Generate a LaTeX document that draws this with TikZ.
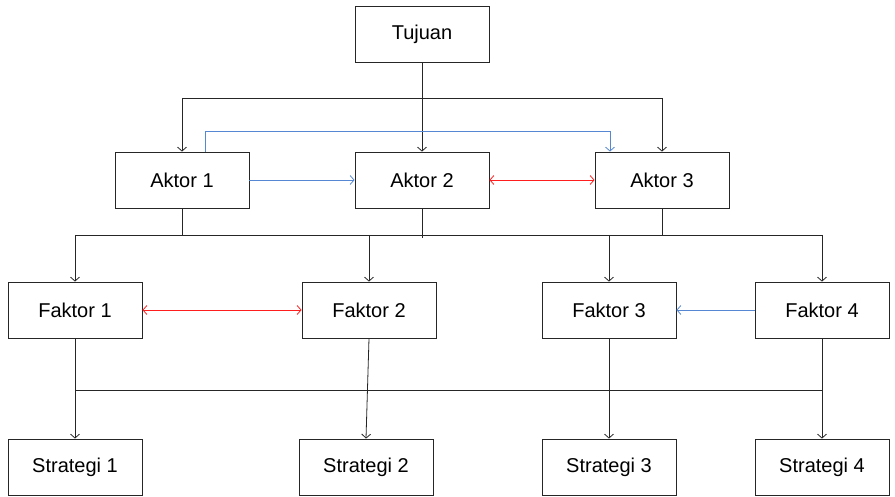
\documentclass[tikz,border=0pt]{standalone}
\usepackage{fontspec}
\setmainfont{Liberation Sans}
\usetikzlibrary{arrows.meta}
\definecolor{linkblue}{RGB}{85,135,210}
\definecolor{linkred}{RGB}{255,30,30}

\begin{document}
\begin{tikzpicture}[x=1pt,y=-1pt,
  box/.style={draw=black!85,line width=0.8pt,minimum width=134pt,minimum height=56pt,inner sep=0pt,font=\fontsize{20}{24}\selectfont},
  every path/.style={line width=0.8pt},
  >={Straight Barb[length=4pt,width=9pt]}]
\useasboundingbox (0,0) rectangle (895,497);
% boxes
\node [box] (tujuan) at (422,34) {Tujuan};
\node [box] (aktor1) at (182,180) {Aktor 1};
\node [box] (aktor2) at (422,180) {Aktor 2};
\node [box] (aktor3) at (662,180) {Aktor 3};
\node [box] (faktor1) at (75,310) {Faktor 1};
\node [box] (faktor2) at (369,310) {Faktor 2};
\node [box] (faktor3) at (609,310) {Faktor 3};
\node [box] (faktor4) at (822,310) {Faktor 4};
\node [box] (strategi1) at (75,467) {Strategi 1};
\node [box] (strategi2) at (366,467) {Strategi 2};
\node [box] (strategi3) at (609,467) {Strategi 3};
\node [box] (strategi4) at (822,467) {Strategi 4};
% tujuan to aktor
\coordinate (t1) at (182,98);
\coordinate (t3) at (662,98);
\draw [->,black!85] (tujuan.south) -- (aktor2.north);
\draw [black!85] (t1) -- (t3);
\draw [->,black!85] (t1) -- (aktor1.north);
\draw [->,black!85] (t3) -- (aktor3.north);
\coordinate (bl) at (610,131);
\draw [->,linkblue] ([xshift=23pt]aktor1.north) |- (bl) -- (bl |- aktor3.north);
\draw [->,linkblue] (aktor1) -- (aktor2);
\draw [<->,linkred] (aktor2) -- (aktor3);
% aktor to faktor
\coordinate (f1) at (75,235);
\coordinate (f4) at (822,235);
\draw [black!85] (aktor1.south) -- (aktor1.south |- f1);
\draw [black!85] (aktor2.south) -- ++(0,30);
\draw [black!85] (aktor3.south) -- (aktor3.south |- f1);
\draw [black!85] (f1) -- (f4);
\draw [->,black!85] (f1) -- (faktor1.north);
\draw [->,black!85] (faktor2.north |- f1) -- (faktor2.north);
\draw [->,black!85] (faktor3.north |- f1) -- (faktor3.north);
\draw [->,black!85] (f4) -- (faktor4.north);
\draw [<->,linkred] (faktor1) -- (faktor2);
\draw [->,linkblue] (faktor4) -- (faktor3);
% faktor to strategi
\coordinate (s1) at (75,390);
\coordinate (s4) at (822,390);
\draw [black!85] (faktor1.south) -- (s1) -- (s4);
\draw [black!85] (faktor4.south) -- (s4);
\draw [->,black!85] (s1) -- (strategi1.north);
\draw [->,black!85] (s4) -- (strategi4.north);
\draw [->,black!85] (faktor2.south) -- (strategi2.north);
\draw [->,black!85] (faktor3.south) -- (strategi3.north);
\end{tikzpicture}
\end{document}
